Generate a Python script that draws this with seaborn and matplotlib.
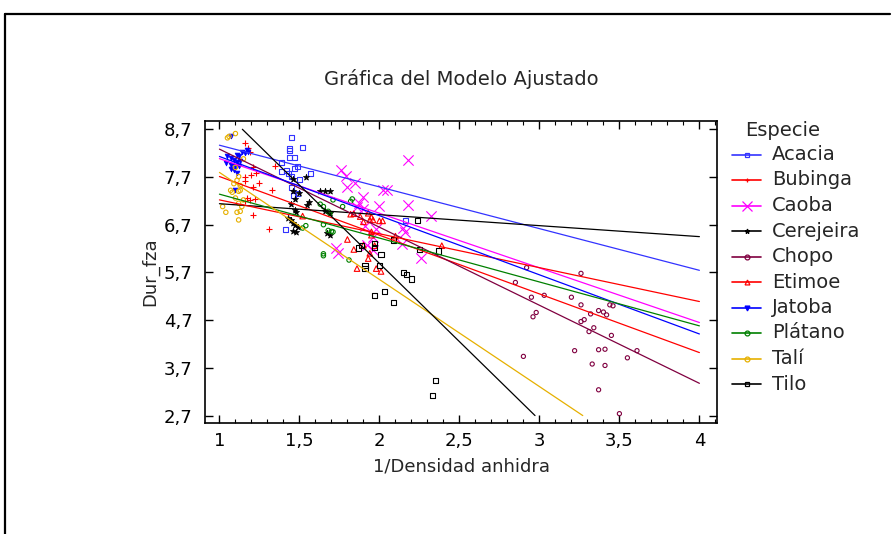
import numpy as np
import pandas as pd
import matplotlib
matplotlib.use('Agg')
import matplotlib.pyplot as plt
from matplotlib.lines import Line2D
from matplotlib.ticker import MultipleLocator, FixedLocator, FuncFormatter
import seaborn as sns

# --- data ---
especies = ['Acacia', 'Bubinga', 'Caoba', 'Cerejeira', 'Chopo',
            'Etimoe', 'Jatoba', 'Plátano', 'Talí', 'Tilo']

acacia_x = [1.45, 1.44, 1.44, 1.52, 1.47, 1.44, 1.39, 1.39, 1.42, 1.43, 1.47, 1.49, 1.57, 1.45, 1.50, 1.45, 1.49, 1.46, 1.41, 2.16]
acacia_y = [8.53, 8.29, 8.26, 8.32, 8.10, 8.10, 8.00, 7.82, 7.83, 7.78, 7.87, 7.92, 7.78, 7.72, 7.64, 7.49, 7.36, 7.31, 6.60, 6.78]

bubinga_x = [1.16, 1.18, 1.35, 1.23, 1.20, 1.16, 1.25, 1.33, 1.17, 1.19, 1.22, 1.16, 1.21, 1.31, 1.19, 1.21, 1.16, 1.21]
bubinga_y = [8.41, 8.31, 7.92, 7.78, 7.75, 7.62, 7.57, 7.42, 7.26, 7.22, 7.24, 7.19, 6.91, 6.61, 8.22, 7.91, 7.71, 7.49]

caoba_x = [2.18, 1.76, 1.79, 1.85, 1.80, 2.02, 2.05, 1.90, 1.87, 2.00, 2.18, 2.32, 1.91, 1.98, 2.15, 2.16, 2.14, 1.96, 2.26, 1.73, 1.90, 1.86, 1.96, 1.74, 1.92]
caoba_y = [8.05, 7.85, 7.73, 7.57, 7.50, 7.43, 7.43, 7.29, 7.15, 7.10, 7.12, 6.89, 6.68, 6.61, 6.63, 6.54, 6.30, 6.17, 6.00, 6.21, 7.03, 7.08, 6.45, 6.10, 6.28]

cerejeira_x = [1.46, 1.54, 1.46, 1.50, 1.47, 1.45, 1.55, 1.56, 1.47, 1.48, 1.45, 1.46, 1.47, 1.49, 1.46, 1.48, 1.63, 1.66, 1.69, 1.66, 1.69, 1.67, 1.69, 1.43]
cerejeira_y = [7.66, 7.70, 7.40, 7.36, 7.24, 7.14, 7.12, 7.17, 7.01, 6.96, 6.80, 6.73, 6.70, 6.66, 6.57, 6.54, 7.40, 7.41, 7.40, 6.99, 6.94, 6.52, 6.49, 6.84]

chopo_x = [2.92, 3.26, 2.85, 2.95, 3.03, 3.20, 3.26, 2.98, 2.96, 3.32, 3.37, 3.40, 3.42, 3.44, 3.46, 3.28, 3.26, 3.34, 3.31, 3.45, 3.61, 3.22, 3.37, 3.41, 3.55, 2.90, 3.33, 3.41, 3.37, 3.50]
chopo_y = [5.80, 5.68, 5.49, 5.18, 5.22, 5.18, 5.02, 4.86, 4.77, 4.83, 4.90, 4.87, 4.81, 5.02, 5.00, 4.71, 4.67, 4.54, 4.46, 4.38, 4.06, 4.06, 4.08, 4.09, 3.91, 3.94, 3.78, 3.75, 3.24, 2.74]

etimoe_x = [1.82, 1.84, 1.88, 1.93, 1.95, 1.96, 1.94, 1.90, 2.00, 2.02, 1.95, 1.80, 1.84, 1.90, 1.97, 1.94, 1.86, 1.98, 2.10, 2.39, 1.93, 2.01, 1.95, 1.52]
etimoe_y = [6.92, 6.93, 6.87, 6.94, 6.86, 6.80, 6.80, 6.76, 6.78, 6.78, 6.55, 6.39, 6.18, 6.27, 6.26, 6.10, 5.78, 5.78, 6.46, 6.26, 5.99, 5.72, 6.48, 6.88]

jatoba_x = [1.07, 1.14, 1.17, 1.11, 1.12, 1.05, 1.07, 1.09, 1.11, 1.13, 1.07, 1.10, 1.12, 1.07, 1.09, 1.04, 1.11, 1.10, 1.16, 1.18]
jatoba_y = [8.55, 8.23, 8.27, 8.17, 8.13, 8.13, 8.10, 8.06, 8.02, 8.04, 7.96, 7.92, 7.93, 7.87, 7.84, 8.00, 7.78, 7.43, 8.20, 8.22]

platano_x = [1.63, 1.65, 1.71, 1.77, 1.82, 1.83, 1.68, 1.69, 1.65, 1.54, 1.52, 1.68, 1.70, 1.65, 1.65, 1.81, 1.71]
platano_y = [7.13, 7.08, 7.22, 7.08, 7.19, 7.24, 6.98, 6.94, 6.70, 6.68, 6.63, 6.58, 6.56, 6.09, 6.05, 5.96, 6.55]

tali_x = [1.06, 1.05, 1.10, 1.15, 1.10, 1.12, 1.11, 1.09, 1.13, 1.07, 1.08, 1.12, 1.13, 1.10, 1.15, 1.12, 1.14, 1.04, 1.11, 1.13, 1.12, 1.02]
tali_y = [8.55, 8.52, 8.61, 8.08, 7.90, 7.71, 7.63, 7.56, 7.52, 7.42, 7.38, 7.40, 7.42, 7.26, 7.22, 7.15, 7.08, 6.96, 6.96, 6.98, 6.80, 7.08]

tilo_x = [1.87, 1.89, 1.97, 1.97, 2.01, 1.91, 1.91, 2.00, 2.09, 2.24, 2.25, 2.37, 2.15, 2.17, 2.20, 2.03, 1.97, 2.09, 2.35, 2.33]
tilo_y = [6.21, 6.26, 6.31, 6.22, 6.08, 5.85, 5.78, 5.85, 6.38, 6.79, 6.18, 6.15, 5.69, 5.66, 5.56, 5.30, 5.22, 5.07, 3.43, 3.12]

# fitted lines, same order as especies
intercepts = [9.24, 8.94, 9.23, 7.37, 9.92, 7.93, 9.37, 8.26, 10.04, 12.45]
slopes = [-0.874, -1.23, -1.145, -0.23, -1.636, -0.71, -1.24, -0.92, -2.244, -3.28]

xs = [acacia_x, bubinga_x, caoba_x, cerejeira_x, chopo_x, etimoe_x, jatoba_x, platano_x, tali_x, tilo_x]
ys = [acacia_y, bubinga_y, caoba_y, cerejeira_y, chopo_y, etimoe_y, jatoba_y, platano_y, tali_y, tilo_y]

colores = ['#3333ff', '#ff0000', '#ff00ff', '#000000', '#800040',
           '#ff0000', '#0000ff', '#008000', '#e6b000', '#000000']
marcadores = ['s', '+', 'x', '*', 'o', '^', 'v', 'o', 'o', 's']
tamanos = [13, 22, 55, 22, 9, 16, 12, 10, 10, 14]
# 'hueco' = open marker, 'linea' = +/x, 'lleno' = solid
estilos = ['hueco', 'linea', 'linea', 'lleno', 'hueco', 'hueco', 'lleno', 'hueco', 'hueco', 'hueco']

df = pd.concat([pd.DataFrame({'x': x, 'y': y, 'Especie': e})
                for e, x, y in zip(especies, xs, ys)], ignore_index=True)

sns.set_style('ticks')
plt.rcParams['font.family'] = ['DejaVu Sans']

fig = plt.figure(figsize=(8.93, 5.34), dpi=100)
ax = fig.add_axes([0.2296, 0.2084, 0.5733, 0.5656])

# regression lines, kept inside x 1..4 and y 2.7..8.7
for e, a, b, c in zip(especies, intercepts, slopes, colores):
    x_lo = max(1.0, (8.7 - a) / b)
    x_hi = min(4.0, (2.7 - a) / b)
    lx = np.linspace(x_lo, x_hi, 2)
    sns.lineplot(x=lx, y=a + b * lx, color=c, lw=0.9, ax=ax)

for e, c, m, s, st in zip(especies, colores, marcadores, tamanos, estilos):
    d = df[df['Especie'] == e]
    if st == 'hueco':
        sns.scatterplot(data=d, x='x', y='y', marker=m, s=s, color=c,
                        facecolor='none', edgecolor=c, linewidth=0.8, ax=ax)
    elif st == 'lleno':
        sns.scatterplot(data=d, x='x', y='y', marker=m, s=s, color=c,
                        edgecolor=c, linewidth=0.5, ax=ax)
    else:
        sns.scatterplot(data=d, x='x', y='y', marker=m, s=s, color=c,
                        linewidth=0.8, ax=ax)

ax.set_xlim(0.91, 4.11)
ax.set_ylim(2.55, 8.88)
ax.xaxis.set_major_locator(MultipleLocator(0.5))
ax.xaxis.set_minor_locator(MultipleLocator(0.1))
ax.yaxis.set_major_locator(FixedLocator([2.7, 3.7, 4.7, 5.7, 6.7, 7.7, 8.7]))
coma = FuncFormatter(lambda v, p: ('%g' % round(v, 1)).replace('.', ','))
ax.xaxis.set_major_formatter(coma)
ax.yaxis.set_major_formatter(coma)
ax.tick_params(axis='both', which='both', direction='in', top=True, right=True,
               labelsize=13, colors='black')
ax.tick_params(axis='x', which='major', length=6, width=1, pad=7)
ax.tick_params(axis='x', which='minor', length=3, width=0.8)
ax.tick_params(axis='y', which='major', length=6, width=1, pad=9)
for sp in ax.spines.values():
    sp.set_linewidth(1.2)
    sp.set_color('black')

ax.set_xlabel('1/Densidad anhidra', fontsize=13)
ax.set_ylabel('Dur_fza', fontsize=13)
ax.xaxis.set_label_coords(0.5, -0.115)
ax.yaxis.set_label_coords(-0.09, 0.5)
ax.set_title('Gráfica del Modelo Ajustado', fontsize=14, pad=26)

# legend drawn by hand on the figure
W, H = 893, 534
fig.text(745 / W, 1 - 130 / H, 'Especie', fontsize=14, va='center', ha='left')
for i, (e, c, m) in enumerate(zip(especies, colores, marcadores)):
    yy = 1 - (154.5 + 25.5 * i) / H
    fig.add_artist(Line2D([732 / W, 761 / W], [yy, yy], color=c, lw=1.2,
                          transform=fig.transFigure))
    fig.add_artist(Line2D([746.5 / W], [yy], color=c, marker=m, markersize=3.5 if m != 'x' else 7,
                          mfc='none' if m in ('s', 'o', '^') else c, mew=0.9,
                          transform=fig.transFigure))
    fig.text(772 / W, yy, e, fontsize=14, va='center', ha='left')

# outer frame (top and left edges)
fig.add_artist(Line2D([5 / W, 890 / W], [1 - 14 / H, 1 - 14 / H], color='black', lw=1.6,
                      transform=fig.transFigure))
fig.add_artist(Line2D([5 / W, 5 / W], [1 - 14 / H, 0], color='black', lw=1.6,
                      transform=fig.transFigure))

fig.savefig('out.png', dpi=100)
